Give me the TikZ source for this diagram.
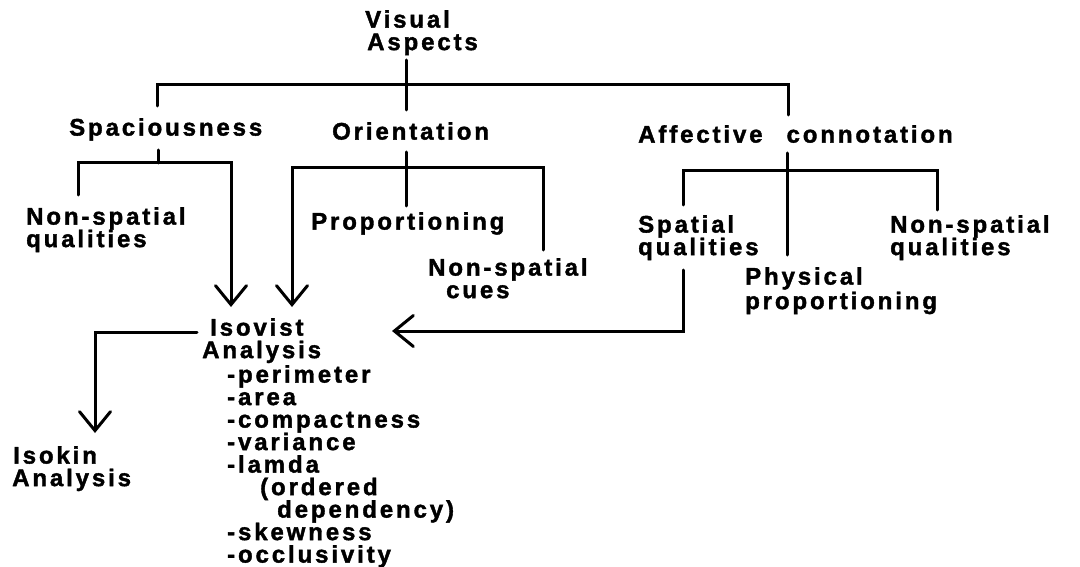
\documentclass[tikz,border=0pt]{standalone}
\usepackage{fontspec}
\newfontfamily\lblfont[LetterSpace=12, FakeBold=1.6]{Liberation Sans}
\usetikzlibrary{arrows.meta}
\begin{document}
\begin{tikzpicture}[x=1pt,y=-1pt,
  txt/.style={anchor=north west, inner sep=0pt, align=left, font={\lblfont\bfseries\fontsize{24}{22.5}\selectfont}},
  ln/.style={line width=3pt, line cap=round, line join=miter},
  arr/.style={ln, -{Straight Barb[length=19pt,width=31pt,line cap=round]}}]
\useasboundingbox (0,0) rectangle (1080,567);
% text nodes
\node[txt] (va) at (365,10) {Visual\\\hspace*{2pt}Aspects};
\node[txt] (sp) at (69,118) {Spaciousness};
\node[txt] (or) at (332,122) {Orientation};
\node[txt] (ac) at (638,125) {Affective\hspace{24pt}connotation};
\node[txt] (nsq1) at (26,207) {Non-spatial\\qualities};
\node[txt] (pr) at (311,212) {Proportioning};
\node[txt] (nsc) at (428,258) {Non-spatial\\\hspace*{18pt}cues};
\node[txt] (spq) at (638,215) {Spatial\\qualities};
\node[txt] (nsq2) at (890,215) {Non-spatial\\qualities};
\node[txt] (pp) at (745,267) {Physical\\[2pt]proportioning};
\node[txt] (iso) at (202,318) {\hspace*{8pt}Isovist\\Analysis};
\node[txt] (lst) at (227,365) {-perimeter\\-area\\-compactness\\-variance\\-lamda\\\hspace*{33pt}(ordered\\\hspace*{50pt}dependency)\\-skewness\\-occlusivity};
\node[txt] (ik) at (12,446) {\hspace*{1pt}Isokin\\Analysis};
% junction coordinates
\coordinate (vaS) at (406,60);
\coordinate (orT) at (406,110);
\coordinate (spT) at (157,106);
\coordinate (barR) at (788,85);
\coordinate (acT) at (788,115);
\coordinate (spB) at (158,150);
\coordinate (spJ) at (158,163);
\coordinate (nsq1T) at (78,195);
\coordinate (spR) at (231,163);
\coordinate (isoA1) at (231,307);
\coordinate (orB) at (406,152);
\coordinate (prT) at (406,206);
\coordinate (nscT) at (543,250);
\coordinate (orL) at (292,168);
\coordinate (isoA2) at (292,307);
\coordinate (acB) at (787,153);
\coordinate (ppT) at (787,255);
\coordinate (spqT) at (683,205);
\coordinate (acR) at (937,171);
\coordinate (nsq2T) at (937,210);
\coordinate (spqB) at (683,270);
\coordinate (isoR) at (392,331);
\coordinate (isoL) at (197,332);
\coordinate (ikT) at (95,433);
% connectors
\draw[ln] (vaS) -- (orT);
\draw[ln] (spT) |- (barR) -- (acT);
\draw[ln] (spB) -- (spJ);
\draw[arr] (nsq1T) |- (spR) -- (isoA1);
\draw[ln] (orB) -- (prT);
\draw[arr] (nscT) |- (orL) -- (isoA2);
\draw[ln] (acB) -- (ppT);
\draw[ln] (spqT) |- (acR) -- (nsq2T);
\draw[arr] (spqB) |- (isoR);
\draw[arr] (isoL) -| (ikT);
\end{tikzpicture}
\end{document}
